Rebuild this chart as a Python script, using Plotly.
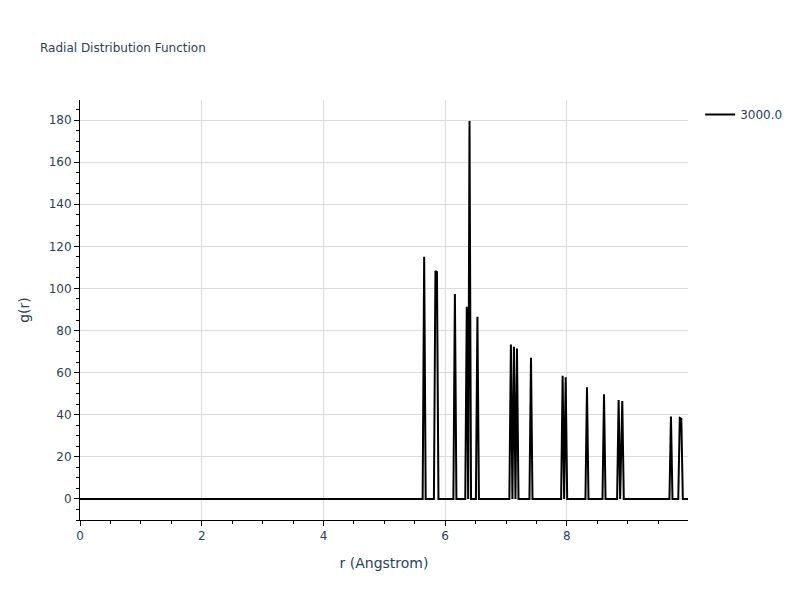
import plotly.graph_objects as go

# g(r): zero baseline with narrow spikes
r_values = [0.0, 5.63, 5.655, 5.68, 5.815, 5.84, 5.865, 5.89,
            6.135, 6.16, 6.185, 6.33, 6.355, 6.378, 6.40, 6.425,
            6.505, 6.53, 6.555, 7.055, 7.08, 7.105, 7.13, 7.155, 7.18, 7.205,
            7.385, 7.41, 7.435, 7.905, 7.93, 7.955, 7.98, 8.005,
            8.305, 8.33, 8.355, 8.585, 8.61, 8.635, 8.825, 8.85, 8.875, 8.91, 8.935,
            9.685, 9.71, 9.735, 9.83, 9.855, 9.88, 9.905, 9.99]
g_values = [0, 0, 115.0, 0, 0, 108.3, 107.8, 0,
            0, 97.3, 0, 0, 91.3, 0, 179.5, 0,
            0, 86.5, 0, 0, 73.4, 0, 72.3, 0, 71.4, 0,
            0, 67.1, 0, 0, 58.5, 0, 57.8, 0,
            0, 53.0, 0, 0, 49.7, 0, 0, 47.0, 0, 46.5, 0,
            0, 39.1, 0, 0, 38.5, 38.1, 0, 0]
serie = '3000.0'

fig = go.Figure()
fig.add_trace(go.Scatter(x=r_values, y=g_values, mode='lines', name=serie,
                         line=dict(color='black', width=2)))

eixo = dict(showline=True, linecolor='black', linewidth=1, ticks='outside',
            tickcolor='black', ticklen=5, gridcolor='#dcdcdc', zeroline=False,
            title_font=dict(size=14))

# a pagina tem 8px de margem no body, por isso as margens menores
fig.update_layout(template='plotly_white', width=800, height=600,
                  font=dict(family='Verdana, DejaVu Sans', size=12),
                  title=dict(text='Radial Distribution Function', x=0.04,
                             y=0.94, font=dict(size=12)),
                  margin=dict(l=72, r=120, t=92, b=88),
                  showlegend=True,
                  xaxis=dict(title='r (Angstrom)', range=[0, 9.99], dtick=2,
                             minor=dict(ticks='outside', dtick=0.5, ticklen=3,
                                        tickcolor='black', showgrid=False),
                             **eixo),
                  yaxis=dict(title='g(r)', range=[-10, 189.5], dtick=20,
                             minor=dict(ticks='outside', dtick=5, ticklen=3,
                                        tickcolor='black', showgrid=False),
                             **eixo))

fig.write_html('out.html')
